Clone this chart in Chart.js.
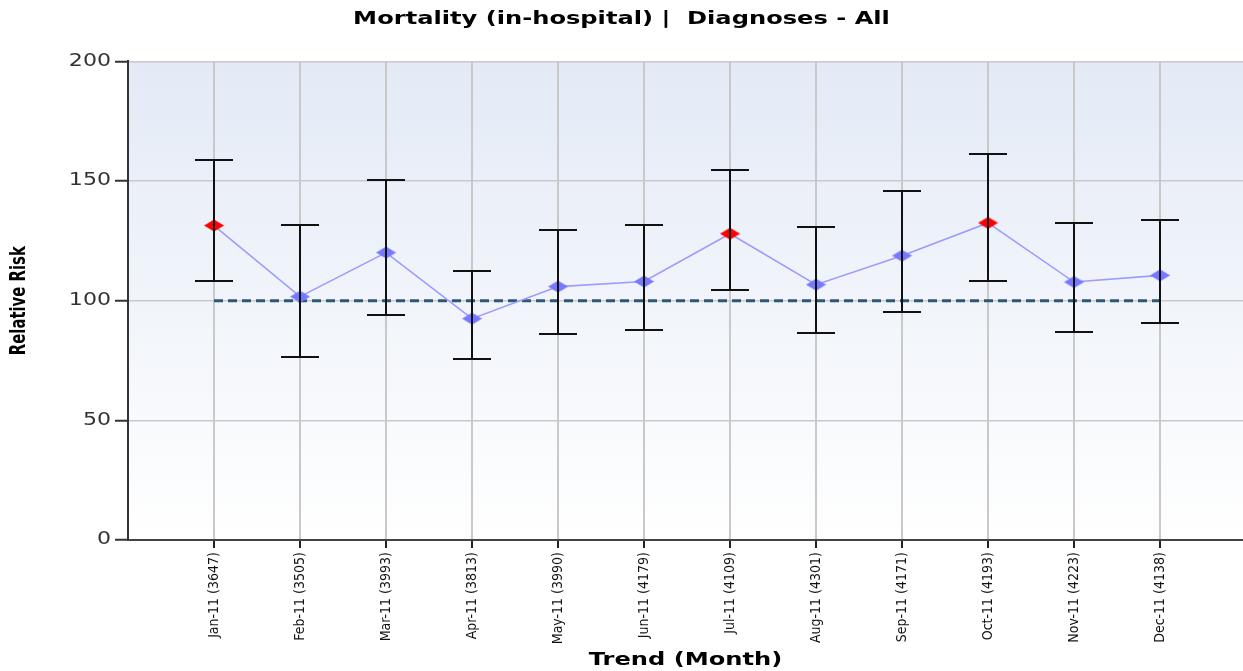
<!DOCTYPE html>
<html>
<head>
<meta charset="utf-8">
<script src="https://cdn.jsdelivr.net/npm/chart.js@4.4.1/dist/chart.umd.min.js"></script>
<style>
html,body{margin:0;padding:0;background:#fff;overflow:hidden;}
#wrap{width:1243px;height:671px;position:relative;}
</style>
</head>
<body>
<div id="wrap"><canvas id="c" width="1243" height="671"></canvas></div>
<script>
// ---- data ----
const months = ["Jan-11 (3647)","Feb-11 (3505)","Mar-11 (3993)","Apr-11 (3813)","May-11 (3990)","Jun-11 (4179)","Jul-11 (4109)","Aug-11 (4301)","Sep-11 (4171)","Oct-11 (4193)","Nov-11 (4223)","Dec-11 (4138)"];
const relativeRisk = [131.4, 101.7, 120.1, 92.5, 105.9, 108.0, 128.0, 106.7, 118.8, 132.5, 107.8, 110.6];
const upperCI = [158.6, 131.8, 150.6, 112.6, 129.7, 131.8, 154.8, 131.0, 146.0, 161.2, 132.5, 133.9];
const lowerCI = [108.4, 76.6, 94.1, 75.7, 86.2, 87.9, 104.6, 86.6, 95.4, 108.1, 86.9, 90.8];
const referenceValue = 100;
const yTicks = [0, 50, 100, 150, 200];

function diamond(color){
  const cv = document.createElement('canvas');
  cv.width = 21; cv.height = 13;
  const g = cv.getContext('2d');
  g.fillStyle = color;
  g.beginPath();
  g.moveTo(10.5,0.5); g.lineTo(20.5,6.5); g.lineTo(10.5,12.5); g.lineTo(0.5,6.5); g.closePath();
  g.fill();
  return cv;
}
const redD = diamond('#ff0000');
const blueD = diamond('#7878ff');

// horizontally stretch text rendering around an anchor x (reference glyphs are wide)
function stretch(obj, key, ctx, sx, anchorFn){
  if (!obj || obj['_st_'+key]) return;
  const orig = obj[key].bind(obj);
  obj[key] = function(...args){
    const ax = anchorFn();
    ctx.save();
    ctx.translate(ax,0); ctx.scale(sx,1); ctx.translate(-ax,0);
    orig(...args);
    ctx.restore();
  };
  obj['_st_'+key] = true;
}

const wideText = {
  id:'wideText',
  beforeDraw(chart){
    const ctx = chart.ctx, x = chart.scales.x, y = chart.scales.y, a = chart.chartArea;
    stretch(chart.titleBlock, 'draw', ctx, 1.42, () => (chart.titleBlock.left + chart.titleBlock.right)/2);
    stretch(x, 'drawTitle', ctx, 1.42, () => (a.left + a.right)/2);
    stretch(y, 'drawLabels', ctx, 1.3, () => y.right - 17);
    stretch(y, 'drawTitle', ctx, 1.25, () => y.left + 20);
  }
};

const bgPlugin = {
  id:'bg',
  beforeDraw(chart){
    const {ctx, chartArea:a} = chart;
    const gr = ctx.createLinearGradient(0,a.top,0,a.bottom);
    gr.addColorStop(0,'#e3eaf6');
    gr.addColorStop(1,'#ffffff');
    ctx.save(); ctx.fillStyle = gr;
    ctx.fillRect(a.left,a.top,a.right-a.left,a.bottom-a.top);
    ctx.restore();
  }
};
const errPlugin = {
  id:'err',
  afterDatasetsDraw(chart){
    const {ctx, scales:{x,y}} = chart;
    ctx.save();
    ctx.strokeStyle = '#111'; ctx.lineWidth = 2;
    for(let i=0;i<months.length;i++){
      const px = Math.round(x.getPixelForValue(i));
      const t = Math.round(y.getPixelForValue(upperCI[i]));
      const b = Math.round(y.getPixelForValue(lowerCI[i]));
      ctx.beginPath();
      ctx.moveTo(px,t); ctx.lineTo(px,b);
      ctx.moveTo(px-19,t); ctx.lineTo(px+19,t);
      ctx.moveTo(px-19,b); ctx.lineTo(px+19,b);
      ctx.stroke();
    }
    ctx.restore();
  }
};

new Chart(document.getElementById('c'), {
  type:'line',
  data:{
    datasets:[
      {
        data: months.map((m,i)=>({x:i,y:referenceValue})),
        borderColor:'#2a5877', borderWidth:3, borderDash:[9,5],
        pointRadius:0, fill:false, order:2
      },
      {
        data: relativeRisk.map((v,i)=>({x:i,y:v})),
        borderColor:'#9c9cff', borderWidth:1.6,
        pointStyle: ctx => (lowerCI[ctx.dataIndex] > referenceValue ? redD : blueD),
        pointRadius:9, fill:false, order:1
      }
    ]
  },
  options:{
    responsive:false, animation:false,
    layout:{autoPadding:false, padding:{left:0,right:0,top:0,bottom:0}},
    plugins:{
      legend:{display:false}, tooltip:{enabled:false},
      title:{display:true, text:'Mortality (in-hospital) |  Diagnoses - All',
        color:'#000', font:{family:'DejaVu Sans', size:17, weight:'bold'},
        padding:{top:9,bottom:32}}
    },
    scales:{
      x:{
        type:'linear', min:-1, max:11.965,
        afterBuildTicks(s){ s.ticks = months.map((m,i)=>({value:i})); },
        afterFit(s){ s.height = 131; s.paddingRight = 0; s.paddingLeft = 0; },
        ticks:{autoSkip:false, minRotation:90, maxRotation:90, padding:4,
          color:'#111', font:{family:"'Liberation Sans Narrow', 'DejaVu Sans Condensed', sans-serif", size:14},
          callback:(v)=>months[v]},
        grid:{color:'#c9c9c9', lineWidth:2, tickColor:'#222', tickLength:8, tickWidth:2},
        border:{color:'#444', width:2},
        title:{display:true, text:'Trend (Month)', color:'#000',
          font:{family:'DejaVu Sans', size:17, weight:'bold'}, padding:{top:0,bottom:0}}
      },
      y:{
        min:0, max:200,
        afterBuildTicks(s){ s.ticks = yTicks.map(v=>({value:v})); },
        afterFit(s){ s.width = 128; },
        ticks:{padding:4, color:'#333', font:{family:'DejaVu Sans', size:17}},
        grid:{color:'#c9c9c9', lineWidth:1.5, tickColor:'#333', tickLength:13, tickWidth:2},
        border:{color:'#333', width:2},
        title:{display:true, text:'Relative Risk', color:'#000',
          font:{family:"'Liberation Sans Narrow', 'DejaVu Sans Condensed', sans-serif", size:16.5, weight:'bold'}, padding:{top:10,bottom:0}}
      }
    }
  },
  plugins:[bgPlugin, errPlugin, wideText]
});
</script>
</body>
</html>
